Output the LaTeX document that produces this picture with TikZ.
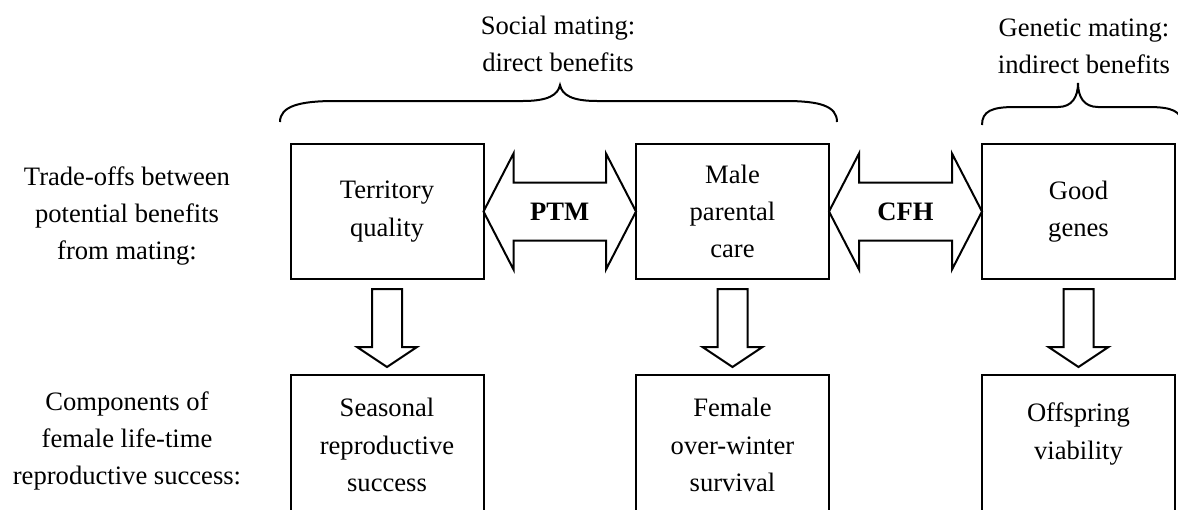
\documentclass[tikz,border=0pt]{standalone}
\usepackage{fontspec}
\setmainfont{Liberation Serif}
\usetikzlibrary{calc}
\newcommand\dgfont{\fontsize{13.3pt}{18.6pt}\selectfont}
\begin{document}
\begin{tikzpicture}[x=0.5pt,y=-0.5pt,
  box/.style={draw,line width=1pt,minimum width=96.5pt,minimum height=67.5pt,inner sep=0pt,outer sep=0pt,align=center,font=\dgfont},
  lowbox/.style={box,minimum height=72.5pt},
  lbl/.style={align=center,font=\dgfont,inner sep=0pt},
  fat/.style={draw,line width=1pt,line join=miter},
  brc/.style={draw,line width=1pt}]
\useasboundingbox (0,0) rectangle (1178,509);
\clip (0,0) rectangle (1178,509);

% top boxes
\node[box] (t) at (387,211.5) {Territory\\quality};
\node[box] (m) at (732.5,211.5) {Male\\parental\\care};
\node[box] (g) at (1078.5,211.5) {Good\\genes};

% bottom boxes (extend below the picture edge)
\node[lowbox] (s) at (387,447.5) {};
\node[lowbox] (f) at (732.5,447.5) {};
\node[lowbox] (o) at (1078.5,447.5) {};
\node[lbl] (stxt) at (387,445) {Seasonal\\reproductive\\success};
\node[lbl] (ftxt) at (732.5,445) {Female\\over-winter\\survival};
\node[lbl] (otxt) at (1078.5,434) {Offspring\\viability};

% row labels
\node[lbl] (trade) at (127,216) {Trade-offs between\\potential benefits\\from mating:};
\node[lbl] (comp) at (127,441) {Components of\\female life-time\\reproductive success:};

% group labels
\node[lbl] (soc) at (558,44) {Social mating:\\direct benefits};
\node[lbl] (gen) at (1084,46) {Genetic mating:\\indirect benefits};

% braces
\draw[brc] (280,122) .. controls (280,106) and (300,101) .. (335,101) -- (523,101)
  .. controls (548,101) and (558,95) .. (560,85)
  .. controls (562,95) and (572,101) .. (597,101) -- (785,101)
  .. controls (820,101) and (837,106) .. (837,122);
\draw[brc] (982,125) .. controls (982,111) and (992,107) .. (1015,107) -- (1058,107)
  .. controls (1072,107) and (1078,97) .. (1078,83)
  .. controls (1078,97) and (1084,107) .. (1098,107) -- (1148,107)
  .. controls (1172,107) and (1182,111) .. (1182,125);

% double block arrows
\draw[fat] (t.east) -- ++(30,-58) -- ++(0,29) -- ($(m.west)+(-30,-29)$) -- ++(0,-29)
  -- (m.west) -- ++(-30,58) -- ++(0,-29) -- ($(t.east)+(30,29)$) -- ++(0,29) -- cycle;
\node[lbl,font=\dgfont\bfseries] (ptm) at ($(t.east)!0.5!(m.west)$) {PTM};
\draw[fat] (m.east) -- ++(30,-58) -- ++(0,29) -- ($(g.west)+(-30,-29)$) -- ++(0,-29)
  -- (g.west) -- ++(-30,58) -- ++(0,-29) -- ($(m.east)+(30,29)$) -- ++(0,29) -- cycle;
\node[lbl,font=\dgfont\bfseries] (cfh) at ($(m.east)!0.5!(g.west)$) {CFH};

% down block arrows
\draw[fat] ($(t.south)+(-15,10)$) -- ++(30,0) -- ++(0,58) -- ++(15,0) -- ($(s.north)+(0,-8)$)
  -- ($(t.south)+(-30,68)$) -- ++(15,0) -- cycle;
\draw[fat] ($(m.south)+(-15,10)$) -- ++(30,0) -- ++(0,58) -- ++(15,0) -- ($(f.north)+(0,-8)$)
  -- ($(m.south)+(-30,68)$) -- ++(15,0) -- cycle;
\draw[fat] ($(g.south)+(-15,10)$) -- ++(30,0) -- ++(0,58) -- ++(15,0) -- ($(o.north)+(0,-8)$)
  -- ($(g.south)+(-30,68)$) -- ++(15,0) -- cycle;
\end{tikzpicture}
\end{document}
